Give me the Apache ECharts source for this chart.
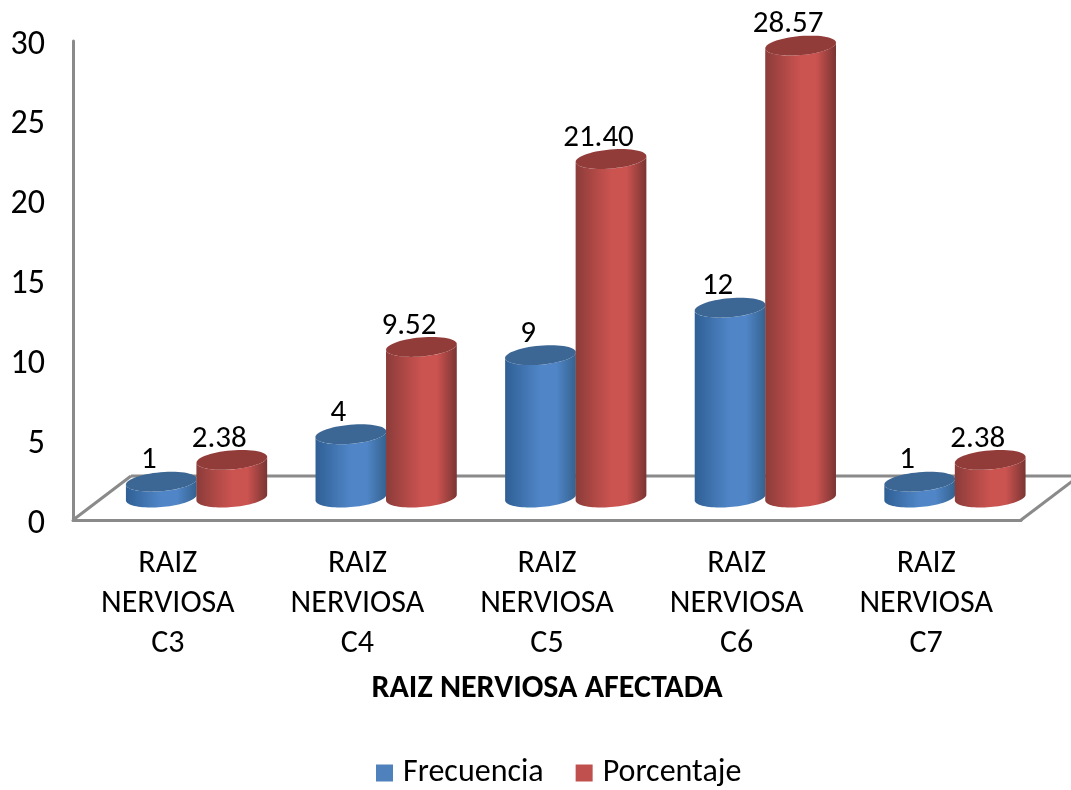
<!DOCTYPE html>
<html>
<head>
<meta charset="utf-8">
<style>html,body{margin:0;padding:0;background:#fff}#c{width:1071px;height:790px}</style>
<script src="https://cdn.jsdelivr.net/npm/echarts@6/dist/echarts.min.js"></script>
</head>
<body>
<div id="c"></div>
<script>
var categories = ['RAIZ\nNERVIOSA\nC3','RAIZ\nNERVIOSA\nC4','RAIZ\nNERVIOSA\nC5','RAIZ\nNERVIOSA\nC6','RAIZ\nNERVIOSA\nC7'];
var frecuencia = [1, 4, 9, 12, 1];
var porcentaje = [2.38, 9.52, 21.40, 28.57, 2.38];
var yTicks = [0, 5, 10, 15, 20, 25, 30];

var FONT = 'Carlito, Lato, "Open Sans", sans-serif';
var GREY = '#8a8a8a';
var chart = echarts.init(document.getElementById('c'), null, {renderer:'canvas'});

function ell(cx, cy, a, b, th, t0, t1, n) {
  var pts = [];
  for (var i = 0; i <= n; i++) {
    var t = t0 + (t1 - t0) * i / n;
    pts.push([cx + a*Math.cos(t)*Math.cos(th) - b*Math.sin(t)*Math.sin(th),
              cy + a*Math.cos(t)*Math.sin(th) + b*Math.sin(t)*Math.cos(th)]);
  }
  return pts;
}

function cylinder(shift, colors, fmt) {
  return function (params, api) {
    var v = api.value(1);
    var top = api.coord([api.value(0), v]);
    var base = api.coord([api.value(0), 0]);
    var cx = top[0] + 28 + shift;
    var a = 35.5, b = 9.5, th = -5 * Math.PI / 180;
    var t0 = Math.atan2(-b*Math.sin(th), a*Math.cos(th));
    var low = ell(cx, base[1], a, b, th, t0, t0 + Math.PI, 40);
    var up = ell(cx, top[1], a, b, th, t0 + Math.PI, t0, 40);
    return {
      type: 'group',
      children: [
        {type:'polygon', shape:{points: low.concat(up)}, style:{fill:{
          type:'linear', x:0, y:0, x2:1, y2:0,
          colorStops:[
            {offset:0, color:colors[0]},
            {offset:0.3, color:colors[1]},
            {offset:0.5, color:colors[2]},
            {offset:0.72, color:colors[2]},
            {offset:1, color:colors[3]}
          ]}}},
        {type:'polygon', shape:{points: ell(cx, top[1], a, b, th, 0, Math.PI*2, 60)},
         style:{fill:colors[4]}},
        {type:'text', x: cx - 12.5, y: top[1] - 21, style:{
          text: fmt(v), fill:'#000', font:'31px ' + FONT, textAlign:'center', textVerticalAlign:'middle'}}
      ]
    };
  };
}

function floor(params) {
  var g = params.coordSys;
  var x0 = g.x, x1 = g.x + g.width, y0 = g.y + g.height;
  var dx = 58, dy = 44;
  var ln = function (a, b, c, d) {
    return {type:'line', shape:{x1:a, y1:b, x2:c, y2:d}, style:{stroke:GREY, lineWidth:3}};
  };
  return {type:'group', children:[
    ln(x0, y0, x0 + dx, y0 - dy),
    ln(x0 + dx, y0 - dy, x1 + dx, y0 - dy),
    ln(x1, y0, x1 + dx, y0 - dy)
  ]};
}

chart.setOption({
  animation:false,
  backgroundColor:'#fff',
  textStyle:{fontFamily:FONT},
  grid:{left:73, top:41, width:948, height:479},
  legend:{
    data:['Frecuencia','Porcentaje'],
    left:371, top:752,
    itemWidth:17, itemHeight:17, itemGap:32,
    icon:'rect',
    textStyle:{fontSize:32, color:'#000', fontFamily:FONT, padding:[0,0,0,5]}
  },
  xAxis:{
    type:'category', data:categories,
    axisTick:{show:false},
    axisLine:{lineStyle:{color:GREY, width:3}},
    axisLabel:{fontSize:32, lineHeight:40, color:'#000', margin:24, fontFamily:FONT, interval:0},
    name:'RAIZ NERVIOSA AFECTADA', nameLocation:'middle', nameGap:153,
    nameTextStyle:{fontSize:32, fontWeight:'bold', color:'#000', fontFamily:FONT}
  },
  yAxis:[{
    type:'value', min:yTicks[0], max:yTicks[yTicks.length-1], interval:5,
    axisLine:{show:true, lineStyle:{color:GREY, width:3}},
    axisTick:{show:false},
    splitLine:{show:false},
    axisLabel:{fontSize:34, color:'#000', margin:28, fontFamily:FONT, verticalAlign:'top', lineHeight:8}
  },{
    type:'value', show:false, min:-1.42, max:28.86, splitLine:{show:false}
  }],
  series:[
    {type:'custom', name:'floor', coordinateSystem:'cartesian2d', silent:true, data:[[0,0]],
     renderItem:floor, clip:false, z:1},
    {type:'custom', name:'Frecuencia', yAxisIndex:1, itemStyle:{color:'#4f81bd'}, z:2, clip:false,
     data:frecuencia.map(function(v,i){return [i,v];}), encode:{x:0,y:1},
     renderItem:cylinder(-34.5, ['#2f5f94','#4377b4','#5086c8','#35628f','#3c6694'], function(v){return String(v);})},
    {type:'custom', name:'Porcentaje', yAxisIndex:1, itemStyle:{color:'#c0504d'}, z:3, clip:false,
     data:porcentaje.map(function(v,i){return [i,v];}), encode:{x:0,y:1},
     renderItem:cylinder(36, ['#8b3c3a','#b34a47','#cb5350','#7a3533','#923c3a'], function(v){return v.toFixed(2);})}
  ]
});
</script>
</body>
</html>
